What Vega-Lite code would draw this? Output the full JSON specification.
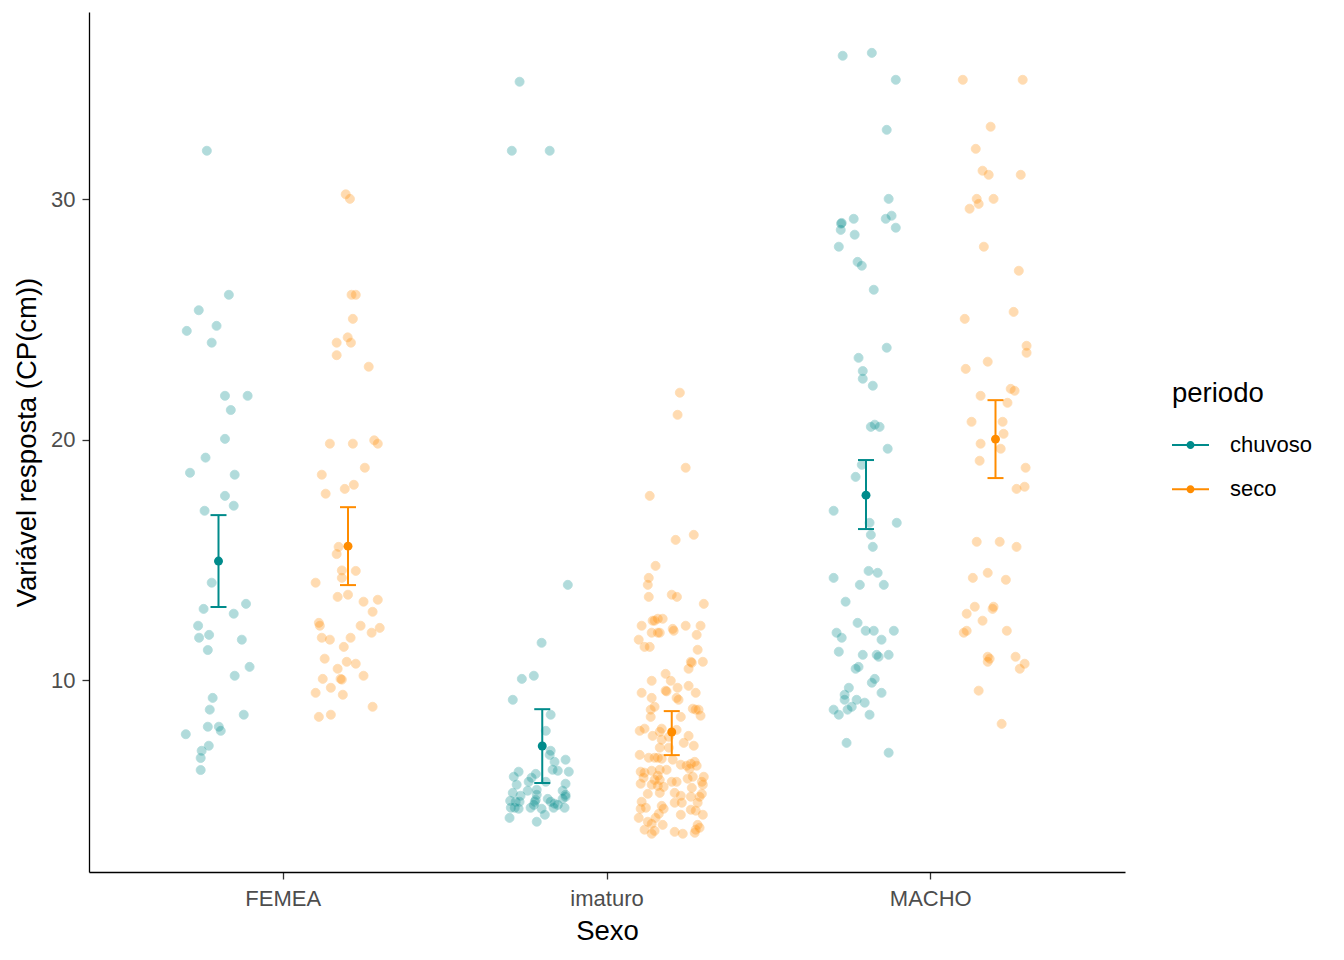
{
  "$schema": "https://vega.github.io/schema/vega-lite/v6.json",
  "width": 1036,
  "height": 860,
  "autosize": "none",
  "padding": {"left": 89, "top": 12, "right": 219, "bottom": 88},
  "background": "white",
  "config": {
    "font": "Liberation Sans",
    "view": {"stroke": null},
    "axis": {
      "grid": false,
      "domainColor": "black",
      "domainWidth": 1.3,
      "tickColor": "#333333",
      "tickWidth": 1.3,
      "tickSize": 7,
      "labelFontSize": 22,
      "labelColor": "#4D4D4D",
      "labelPadding": 6,
      "titleFontSize": 27.5,
      "titleFontWeight": "normal",
      "titleColor": "black"
    }
  },
  "datasets": {
    "pontos": [
      {"Sexo":"FEMEA","periodo":"chuvoso","cp":32.01,"dx":-0.236},
      {"Sexo":"FEMEA","periodo":"chuvoso","cp":26.02,"dx":-0.168},
      {"Sexo":"FEMEA","periodo":"chuvoso","cp":25.38,"dx":-0.261},
      {"Sexo":"FEMEA","periodo":"chuvoso","cp":24.73,"dx":-0.206},
      {"Sexo":"FEMEA","periodo":"chuvoso","cp":24.52,"dx":-0.298},
      {"Sexo":"FEMEA","periodo":"chuvoso","cp":24.03,"dx":-0.221},
      {"Sexo":"FEMEA","periodo":"chuvoso","cp":21.82,"dx":-0.180},
      {"Sexo":"FEMEA","periodo":"chuvoso","cp":21.82,"dx":-0.110},
      {"Sexo":"FEMEA","periodo":"chuvoso","cp":21.23,"dx":-0.162},
      {"Sexo":"FEMEA","periodo":"chuvoso","cp":20.03,"dx":-0.180},
      {"Sexo":"FEMEA","periodo":"chuvoso","cp":19.25,"dx":-0.240},
      {"Sexo":"FEMEA","periodo":"chuvoso","cp":18.62,"dx":-0.288},
      {"Sexo":"FEMEA","periodo":"chuvoso","cp":18.54,"dx":-0.150},
      {"Sexo":"FEMEA","periodo":"chuvoso","cp":17.66,"dx":-0.180},
      {"Sexo":"FEMEA","periodo":"chuvoso","cp":17.25,"dx":-0.153},
      {"Sexo":"FEMEA","periodo":"chuvoso","cp":17.04,"dx":-0.243},
      {"Sexo":"FEMEA","periodo":"chuvoso","cp":14.05,"dx":-0.221},
      {"Sexo":"FEMEA","periodo":"chuvoso","cp":12.96,"dx":-0.246},
      {"Sexo":"FEMEA","periodo":"chuvoso","cp":13.17,"dx":-0.115},
      {"Sexo":"FEMEA","periodo":"chuvoso","cp":12.76,"dx":-0.153},
      {"Sexo":"FEMEA","periodo":"chuvoso","cp":12.26,"dx":-0.263},
      {"Sexo":"FEMEA","periodo":"chuvoso","cp":11.76,"dx":-0.260},
      {"Sexo":"FEMEA","periodo":"chuvoso","cp":11.88,"dx":-0.229},
      {"Sexo":"FEMEA","periodo":"chuvoso","cp":11.68,"dx":-0.128},
      {"Sexo":"FEMEA","periodo":"chuvoso","cp":11.25,"dx":-0.233},
      {"Sexo":"FEMEA","periodo":"chuvoso","cp":10.55,"dx":-0.104},
      {"Sexo":"FEMEA","periodo":"chuvoso","cp":10.18,"dx":-0.150},
      {"Sexo":"FEMEA","periodo":"chuvoso","cp":9.26,"dx":-0.218},
      {"Sexo":"FEMEA","periodo":"chuvoso","cp":8.77,"dx":-0.227},
      {"Sexo":"FEMEA","periodo":"chuvoso","cp":8.56,"dx":-0.122},
      {"Sexo":"FEMEA","periodo":"chuvoso","cp":8.06,"dx":-0.233},
      {"Sexo":"FEMEA","periodo":"chuvoso","cp":8.06,"dx":-0.199},
      {"Sexo":"FEMEA","periodo":"chuvoso","cp":7.89,"dx":-0.193},
      {"Sexo":"FEMEA","periodo":"chuvoso","cp":7.75,"dx":-0.301},
      {"Sexo":"FEMEA","periodo":"chuvoso","cp":7.27,"dx":-0.230},
      {"Sexo":"FEMEA","periodo":"chuvoso","cp":7.06,"dx":-0.252},
      {"Sexo":"FEMEA","periodo":"chuvoso","cp":6.76,"dx":-0.255},
      {"Sexo":"FEMEA","periodo":"chuvoso","cp":6.26,"dx":-0.255},
      {"Sexo":"FEMEA","periodo":"seco","cp":30.20,"dx":0.193},
      {"Sexo":"FEMEA","periodo":"seco","cp":30.01,"dx":0.206},
      {"Sexo":"FEMEA","periodo":"seco","cp":26.02,"dx":0.211},
      {"Sexo":"FEMEA","periodo":"seco","cp":26.02,"dx":0.224},
      {"Sexo":"FEMEA","periodo":"seco","cp":25.02,"dx":0.215},
      {"Sexo":"FEMEA","periodo":"seco","cp":24.25,"dx":0.199},
      {"Sexo":"FEMEA","periodo":"seco","cp":24.03,"dx":0.165},
      {"Sexo":"FEMEA","periodo":"seco","cp":24.03,"dx":0.209},
      {"Sexo":"FEMEA","periodo":"seco","cp":23.51,"dx":0.165},
      {"Sexo":"FEMEA","periodo":"seco","cp":23.03,"dx":0.264},
      {"Sexo":"FEMEA","periodo":"seco","cp":19.83,"dx":0.144},
      {"Sexo":"FEMEA","periodo":"seco","cp":19.83,"dx":0.215},
      {"Sexo":"FEMEA","periodo":"seco","cp":19.97,"dx":0.281},
      {"Sexo":"FEMEA","periodo":"seco","cp":19.83,"dx":0.292},
      {"Sexo":"FEMEA","periodo":"seco","cp":18.83,"dx":0.252},
      {"Sexo":"FEMEA","periodo":"seco","cp":18.54,"dx":0.119},
      {"Sexo":"FEMEA","periodo":"seco","cp":18.12,"dx":0.218},
      {"Sexo":"FEMEA","periodo":"seco","cp":17.95,"dx":0.190},
      {"Sexo":"FEMEA","periodo":"seco","cp":17.75,"dx":0.131},
      {"Sexo":"FEMEA","periodo":"seco","cp":15.54,"dx":0.171},
      {"Sexo":"FEMEA","periodo":"seco","cp":15.24,"dx":0.165},
      {"Sexo":"FEMEA","periodo":"seco","cp":14.56,"dx":0.181},
      {"Sexo":"FEMEA","periodo":"seco","cp":14.54,"dx":0.224},
      {"Sexo":"FEMEA","periodo":"seco","cp":14.25,"dx":0.181},
      {"Sexo":"FEMEA","periodo":"seco","cp":14.05,"dx":0.100},
      {"Sexo":"FEMEA","periodo":"seco","cp":13.46,"dx":0.168},
      {"Sexo":"FEMEA","periodo":"seco","cp":13.55,"dx":0.200},
      {"Sexo":"FEMEA","periodo":"seco","cp":13.26,"dx":0.248},
      {"Sexo":"FEMEA","periodo":"seco","cp":13.34,"dx":0.292},
      {"Sexo":"FEMEA","periodo":"seco","cp":12.84,"dx":0.276},
      {"Sexo":"FEMEA","periodo":"seco","cp":12.38,"dx":0.110},
      {"Sexo":"FEMEA","periodo":"seco","cp":12.26,"dx":0.113},
      {"Sexo":"FEMEA","periodo":"seco","cp":12.26,"dx":0.239},
      {"Sexo":"FEMEA","periodo":"seco","cp":12.17,"dx":0.298},
      {"Sexo":"FEMEA","periodo":"seco","cp":11.97,"dx":0.273},
      {"Sexo":"FEMEA","periodo":"seco","cp":11.76,"dx":0.119},
      {"Sexo":"FEMEA","periodo":"seco","cp":11.68,"dx":0.144},
      {"Sexo":"FEMEA","periodo":"seco","cp":11.76,"dx":0.208},
      {"Sexo":"FEMEA","periodo":"seco","cp":11.38,"dx":0.187},
      {"Sexo":"FEMEA","periodo":"seco","cp":10.89,"dx":0.128},
      {"Sexo":"FEMEA","periodo":"seco","cp":10.76,"dx":0.196},
      {"Sexo":"FEMEA","periodo":"seco","cp":10.68,"dx":0.224},
      {"Sexo":"FEMEA","periodo":"seco","cp":10.47,"dx":0.168},
      {"Sexo":"FEMEA","periodo":"seco","cp":10.05,"dx":0.122},
      {"Sexo":"FEMEA","periodo":"seco","cp":10.05,"dx":0.177},
      {"Sexo":"FEMEA","periodo":"seco","cp":10.02,"dx":0.181},
      {"Sexo":"FEMEA","periodo":"seco","cp":10.18,"dx":0.248},
      {"Sexo":"FEMEA","periodo":"seco","cp":9.68,"dx":0.147},
      {"Sexo":"FEMEA","periodo":"seco","cp":9.47,"dx":0.100},
      {"Sexo":"FEMEA","periodo":"seco","cp":9.39,"dx":0.184},
      {"Sexo":"FEMEA","periodo":"seco","cp":8.89,"dx":0.276},
      {"Sexo":"FEMEA","periodo":"seco","cp":8.47,"dx":0.110},
      {"Sexo":"FEMEA","periodo":"seco","cp":8.56,"dx":0.147},
      {"Sexo":"imaturo","periodo":"chuvoso","cp":34.88,"dx":-0.270},
      {"Sexo":"imaturo","periodo":"chuvoso","cp":32.01,"dx":-0.294},
      {"Sexo":"imaturo","periodo":"chuvoso","cp":32.01,"dx":-0.177},
      {"Sexo":"imaturo","periodo":"chuvoso","cp":13.96,"dx":-0.121},
      {"Sexo":"imaturo","periodo":"chuvoso","cp":11.55,"dx":-0.202},
      {"Sexo":"imaturo","periodo":"chuvoso","cp":10.05,"dx":-0.263},
      {"Sexo":"imaturo","periodo":"chuvoso","cp":10.18,"dx":-0.226},
      {"Sexo":"imaturo","periodo":"chuvoso","cp":9.18,"dx":-0.291},
      {"Sexo":"imaturo","periodo":"chuvoso","cp":8.56,"dx":-0.174},
      {"Sexo":"imaturo","periodo":"chuvoso","cp":7.89,"dx":-0.189},
      {"Sexo":"imaturo","periodo":"chuvoso","cp":7.06,"dx":-0.174},
      {"Sexo":"imaturo","periodo":"chuvoso","cp":6.89,"dx":-0.177},
      {"Sexo":"imaturo","periodo":"chuvoso","cp":6.60,"dx":-0.162},
      {"Sexo":"imaturo","periodo":"chuvoso","cp":6.69,"dx":-0.128},
      {"Sexo":"imaturo","periodo":"chuvoso","cp":6.27,"dx":-0.168},
      {"Sexo":"imaturo","periodo":"chuvoso","cp":6.23,"dx":-0.152},
      {"Sexo":"imaturo","periodo":"chuvoso","cp":6.19,"dx":-0.118},
      {"Sexo":"imaturo","periodo":"chuvoso","cp":6.19,"dx":-0.273},
      {"Sexo":"imaturo","periodo":"chuvoso","cp":5.98,"dx":-0.288},
      {"Sexo":"imaturo","periodo":"chuvoso","cp":6.10,"dx":-0.220},
      {"Sexo":"imaturo","periodo":"chuvoso","cp":5.94,"dx":-0.233},
      {"Sexo":"imaturo","periodo":"chuvoso","cp":5.77,"dx":-0.189},
      {"Sexo":"imaturo","periodo":"chuvoso","cp":5.77,"dx":-0.242},
      {"Sexo":"imaturo","periodo":"chuvoso","cp":5.65,"dx":-0.279},
      {"Sexo":"imaturo","periodo":"chuvoso","cp":5.69,"dx":-0.128},
      {"Sexo":"imaturo","periodo":"chuvoso","cp":5.40,"dx":-0.245},
      {"Sexo":"imaturo","periodo":"chuvoso","cp":5.44,"dx":-0.217},
      {"Sexo":"imaturo","periodo":"chuvoso","cp":5.40,"dx":-0.137},
      {"Sexo":"imaturo","periodo":"chuvoso","cp":5.23,"dx":-0.128},
      {"Sexo":"imaturo","periodo":"chuvoso","cp":5.31,"dx":-0.291},
      {"Sexo":"imaturo","periodo":"chuvoso","cp":5.19,"dx":-0.267},
      {"Sexo":"imaturo","periodo":"chuvoso","cp":5.23,"dx":-0.217},
      {"Sexo":"imaturo","periodo":"chuvoso","cp":4.98,"dx":-0.299},
      {"Sexo":"imaturo","periodo":"chuvoso","cp":4.94,"dx":-0.282},
      {"Sexo":"imaturo","periodo":"chuvoso","cp":4.94,"dx":-0.270},
      {"Sexo":"imaturo","periodo":"chuvoso","cp":4.94,"dx":-0.223},
      {"Sexo":"imaturo","periodo":"chuvoso","cp":5.02,"dx":-0.220},
      {"Sexo":"imaturo","periodo":"chuvoso","cp":5.06,"dx":-0.183},
      {"Sexo":"imaturo","periodo":"chuvoso","cp":4.94,"dx":-0.174},
      {"Sexo":"imaturo","periodo":"chuvoso","cp":5.06,"dx":-0.137},
      {"Sexo":"imaturo","periodo":"chuvoso","cp":5.15,"dx":-0.128},
      {"Sexo":"imaturo","periodo":"chuvoso","cp":4.86,"dx":-0.162},
      {"Sexo":"imaturo","periodo":"chuvoso","cp":4.81,"dx":-0.152},
      {"Sexo":"imaturo","periodo":"chuvoso","cp":4.69,"dx":-0.297},
      {"Sexo":"imaturo","periodo":"chuvoso","cp":4.69,"dx":-0.285},
      {"Sexo":"imaturo","periodo":"chuvoso","cp":4.65,"dx":-0.273},
      {"Sexo":"imaturo","periodo":"chuvoso","cp":4.69,"dx":-0.236},
      {"Sexo":"imaturo","periodo":"chuvoso","cp":4.81,"dx":-0.226},
      {"Sexo":"imaturo","periodo":"chuvoso","cp":4.65,"dx":-0.202},
      {"Sexo":"imaturo","periodo":"chuvoso","cp":4.69,"dx":-0.165},
      {"Sexo":"imaturo","periodo":"chuvoso","cp":4.69,"dx":-0.131},
      {"Sexo":"imaturo","periodo":"chuvoso","cp":4.40,"dx":-0.192},
      {"Sexo":"imaturo","periodo":"chuvoso","cp":4.27,"dx":-0.301},
      {"Sexo":"imaturo","periodo":"chuvoso","cp":4.11,"dx":-0.217},
      {"Sexo":"imaturo","periodo":"seco","cp":21.95,"dx":0.225},
      {"Sexo":"imaturo","periodo":"seco","cp":21.03,"dx":0.218},
      {"Sexo":"imaturo","periodo":"seco","cp":18.83,"dx":0.243},
      {"Sexo":"imaturo","periodo":"seco","cp":17.66,"dx":0.132},
      {"Sexo":"imaturo","periodo":"seco","cp":15.83,"dx":0.212},
      {"Sexo":"imaturo","periodo":"seco","cp":16.04,"dx":0.268},
      {"Sexo":"imaturo","periodo":"seco","cp":14.75,"dx":0.150},
      {"Sexo":"imaturo","periodo":"seco","cp":14.25,"dx":0.129},
      {"Sexo":"imaturo","periodo":"seco","cp":13.96,"dx":0.126},
      {"Sexo":"imaturo","periodo":"seco","cp":13.46,"dx":0.129},
      {"Sexo":"imaturo","periodo":"seco","cp":13.55,"dx":0.200},
      {"Sexo":"imaturo","periodo":"seco","cp":13.46,"dx":0.216},
      {"Sexo":"imaturo","periodo":"seco","cp":13.17,"dx":0.299},
      {"Sexo":"imaturo","periodo":"seco","cp":12.26,"dx":0.107},
      {"Sexo":"imaturo","periodo":"seco","cp":12.47,"dx":0.141},
      {"Sexo":"imaturo","periodo":"seco","cp":12.55,"dx":0.157},
      {"Sexo":"imaturo","periodo":"seco","cp":12.55,"dx":0.172},
      {"Sexo":"imaturo","periodo":"seco","cp":12.47,"dx":0.147},
      {"Sexo":"imaturo","periodo":"seco","cp":12.13,"dx":0.203},
      {"Sexo":"imaturo","periodo":"seco","cp":12.05,"dx":0.206},
      {"Sexo":"imaturo","periodo":"seco","cp":12.26,"dx":0.243},
      {"Sexo":"imaturo","periodo":"seco","cp":12.26,"dx":0.289},
      {"Sexo":"imaturo","periodo":"seco","cp":11.88,"dx":0.277},
      {"Sexo":"imaturo","periodo":"seco","cp":11.97,"dx":0.138},
      {"Sexo":"imaturo","periodo":"seco","cp":11.97,"dx":0.157},
      {"Sexo":"imaturo","periodo":"seco","cp":11.97,"dx":0.163},
      {"Sexo":"imaturo","periodo":"seco","cp":11.68,"dx":0.098},
      {"Sexo":"imaturo","periodo":"seco","cp":11.38,"dx":0.116},
      {"Sexo":"imaturo","periodo":"seco","cp":11.38,"dx":0.132},
      {"Sexo":"imaturo","periodo":"seco","cp":11.26,"dx":0.280},
      {"Sexo":"imaturo","periodo":"seco","cp":10.76,"dx":0.259},
      {"Sexo":"imaturo","periodo":"seco","cp":10.72,"dx":0.262},
      {"Sexo":"imaturo","periodo":"seco","cp":10.76,"dx":0.296},
      {"Sexo":"imaturo","periodo":"seco","cp":10.47,"dx":0.252},
      {"Sexo":"imaturo","periodo":"seco","cp":10.26,"dx":0.181},
      {"Sexo":"imaturo","periodo":"seco","cp":9.97,"dx":0.138},
      {"Sexo":"imaturo","periodo":"seco","cp":9.97,"dx":0.197},
      {"Sexo":"imaturo","periodo":"seco","cp":9.68,"dx":0.218},
      {"Sexo":"imaturo","periodo":"seco","cp":9.76,"dx":0.252},
      {"Sexo":"imaturo","periodo":"seco","cp":9.56,"dx":0.181},
      {"Sexo":"imaturo","periodo":"seco","cp":9.53,"dx":0.184},
      {"Sexo":"imaturo","periodo":"seco","cp":9.47,"dx":0.274},
      {"Sexo":"imaturo","periodo":"seco","cp":9.47,"dx":0.107},
      {"Sexo":"imaturo","periodo":"seco","cp":9.26,"dx":0.138},
      {"Sexo":"imaturo","periodo":"seco","cp":9.26,"dx":0.215},
      {"Sexo":"imaturo","periodo":"seco","cp":9.18,"dx":0.221},
      {"Sexo":"imaturo","periodo":"seco","cp":8.89,"dx":0.147},
      {"Sexo":"imaturo","periodo":"seco","cp":8.77,"dx":0.135},
      {"Sexo":"imaturo","periodo":"seco","cp":8.81,"dx":0.265},
      {"Sexo":"imaturo","periodo":"seco","cp":8.77,"dx":0.274},
      {"Sexo":"imaturo","periodo":"seco","cp":8.77,"dx":0.283},
      {"Sexo":"imaturo","periodo":"seco","cp":8.47,"dx":0.135},
      {"Sexo":"imaturo","periodo":"seco","cp":8.47,"dx":0.228},
      {"Sexo":"imaturo","periodo":"seco","cp":8.52,"dx":0.289},
      {"Sexo":"imaturo","periodo":"seco","cp":7.89,"dx":0.101},
      {"Sexo":"imaturo","periodo":"seco","cp":7.98,"dx":0.116},
      {"Sexo":"imaturo","periodo":"seco","cp":7.98,"dx":0.169},
      {"Sexo":"imaturo","periodo":"seco","cp":7.85,"dx":0.163},
      {"Sexo":"imaturo","periodo":"seco","cp":7.93,"dx":0.215},
      {"Sexo":"imaturo","periodo":"seco","cp":7.68,"dx":0.141},
      {"Sexo":"imaturo","periodo":"seco","cp":7.52,"dx":0.169},
      {"Sexo":"imaturo","periodo":"seco","cp":7.64,"dx":0.191},
      {"Sexo":"imaturo","periodo":"seco","cp":7.68,"dx":0.252},
      {"Sexo":"imaturo","periodo":"seco","cp":7.39,"dx":0.237},
      {"Sexo":"imaturo","periodo":"seco","cp":7.27,"dx":0.268},
      {"Sexo":"imaturo","periodo":"seco","cp":7.19,"dx":0.163},
      {"Sexo":"imaturo","periodo":"seco","cp":7.19,"dx":0.191},
      {"Sexo":"imaturo","periodo":"seco","cp":6.89,"dx":0.101},
      {"Sexo":"imaturo","periodo":"seco","cp":6.77,"dx":0.129},
      {"Sexo":"imaturo","periodo":"seco","cp":6.77,"dx":0.147},
      {"Sexo":"imaturo","periodo":"seco","cp":6.77,"dx":0.157},
      {"Sexo":"imaturo","periodo":"seco","cp":6.73,"dx":0.169},
      {"Sexo":"imaturo","periodo":"seco","cp":6.69,"dx":0.203},
      {"Sexo":"imaturo","periodo":"seco","cp":6.48,"dx":0.228},
      {"Sexo":"imaturo","periodo":"seco","cp":6.44,"dx":0.246},
      {"Sexo":"imaturo","periodo":"seco","cp":6.52,"dx":0.259},
      {"Sexo":"imaturo","periodo":"seco","cp":6.60,"dx":0.271},
      {"Sexo":"imaturo","periodo":"seco","cp":6.44,"dx":0.277},
      {"Sexo":"imaturo","periodo":"seco","cp":6.27,"dx":0.163},
      {"Sexo":"imaturo","periodo":"seco","cp":6.27,"dx":0.184},
      {"Sexo":"imaturo","periodo":"seco","cp":6.19,"dx":0.104},
      {"Sexo":"imaturo","periodo":"seco","cp":6.15,"dx":0.116},
      {"Sexo":"imaturo","periodo":"seco","cp":6.23,"dx":0.138},
      {"Sexo":"imaturo","periodo":"seco","cp":6.02,"dx":0.157},
      {"Sexo":"imaturo","periodo":"seco","cp":6.31,"dx":0.255},
      {"Sexo":"imaturo","periodo":"seco","cp":5.98,"dx":0.265},
      {"Sexo":"imaturo","periodo":"seco","cp":5.98,"dx":0.299},
      {"Sexo":"imaturo","periodo":"seco","cp":5.94,"dx":0.113},
      {"Sexo":"imaturo","periodo":"seco","cp":5.85,"dx":0.147},
      {"Sexo":"imaturo","periodo":"seco","cp":5.85,"dx":0.163},
      {"Sexo":"imaturo","periodo":"seco","cp":5.77,"dx":0.200},
      {"Sexo":"imaturo","periodo":"seco","cp":5.77,"dx":0.215},
      {"Sexo":"imaturo","periodo":"seco","cp":5.90,"dx":0.249},
      {"Sexo":"imaturo","periodo":"seco","cp":5.77,"dx":0.293},
      {"Sexo":"imaturo","periodo":"seco","cp":5.69,"dx":0.104},
      {"Sexo":"imaturo","periodo":"seco","cp":5.65,"dx":0.138},
      {"Sexo":"imaturo","periodo":"seco","cp":5.60,"dx":0.157},
      {"Sexo":"imaturo","periodo":"seco","cp":5.56,"dx":0.175},
      {"Sexo":"imaturo","periodo":"seco","cp":5.52,"dx":0.262},
      {"Sexo":"imaturo","periodo":"seco","cp":5.65,"dx":0.296},
      {"Sexo":"imaturo","periodo":"seco","cp":5.27,"dx":0.126},
      {"Sexo":"imaturo","periodo":"seco","cp":5.31,"dx":0.163},
      {"Sexo":"imaturo","periodo":"seco","cp":5.31,"dx":0.209},
      {"Sexo":"imaturo","periodo":"seco","cp":5.19,"dx":0.228},
      {"Sexo":"imaturo","periodo":"seco","cp":5.15,"dx":0.259},
      {"Sexo":"imaturo","periodo":"seco","cp":5.15,"dx":0.286},
      {"Sexo":"imaturo","periodo":"seco","cp":5.27,"dx":0.293},
      {"Sexo":"imaturo","periodo":"seco","cp":4.94,"dx":0.107},
      {"Sexo":"imaturo","periodo":"seco","cp":4.90,"dx":0.209},
      {"Sexo":"imaturo","periodo":"seco","cp":4.90,"dx":0.231},
      {"Sexo":"imaturo","periodo":"seco","cp":4.90,"dx":0.280},
      {"Sexo":"imaturo","periodo":"seco","cp":4.77,"dx":0.169},
      {"Sexo":"imaturo","periodo":"seco","cp":4.65,"dx":0.104},
      {"Sexo":"imaturo","periodo":"seco","cp":4.69,"dx":0.120},
      {"Sexo":"imaturo","periodo":"seco","cp":4.65,"dx":0.175},
      {"Sexo":"imaturo","periodo":"seco","cp":4.61,"dx":0.259},
      {"Sexo":"imaturo","periodo":"seco","cp":4.57,"dx":0.274},
      {"Sexo":"imaturo","periodo":"seco","cp":4.44,"dx":0.160},
      {"Sexo":"imaturo","periodo":"seco","cp":4.27,"dx":0.098},
      {"Sexo":"imaturo","periodo":"seco","cp":4.40,"dx":0.228},
      {"Sexo":"imaturo","periodo":"seco","cp":4.40,"dx":0.296},
      {"Sexo":"imaturo","periodo":"seco","cp":4.27,"dx":0.150},
      {"Sexo":"imaturo","periodo":"seco","cp":4.11,"dx":0.126},
      {"Sexo":"imaturo","periodo":"seco","cp":4.02,"dx":0.138},
      {"Sexo":"imaturo","periodo":"seco","cp":3.98,"dx":0.172},
      {"Sexo":"imaturo","periodo":"seco","cp":3.98,"dx":0.280},
      {"Sexo":"imaturo","periodo":"seco","cp":3.86,"dx":0.286},
      {"Sexo":"imaturo","periodo":"seco","cp":3.78,"dx":0.116},
      {"Sexo":"imaturo","periodo":"seco","cp":3.73,"dx":0.147},
      {"Sexo":"imaturo","periodo":"seco","cp":3.69,"dx":0.209},
      {"Sexo":"imaturo","periodo":"seco","cp":3.61,"dx":0.234},
      {"Sexo":"imaturo","periodo":"seco","cp":3.61,"dx":0.138},
      {"Sexo":"imaturo","periodo":"seco","cp":3.65,"dx":0.271},
      {"Sexo":"imaturo","periodo":"seco","cp":3.78,"dx":0.274},
      {"Sexo":"MACHO","periodo":"chuvoso","cp":35.96,"dx":-0.272},
      {"Sexo":"MACHO","periodo":"chuvoso","cp":36.08,"dx":-0.182},
      {"Sexo":"MACHO","periodo":"chuvoso","cp":34.96,"dx":-0.108},
      {"Sexo":"MACHO","periodo":"chuvoso","cp":32.88,"dx":-0.136},
      {"Sexo":"MACHO","periodo":"chuvoso","cp":30.01,"dx":-0.130},
      {"Sexo":"MACHO","periodo":"chuvoso","cp":29.18,"dx":-0.238},
      {"Sexo":"MACHO","periodo":"chuvoso","cp":29.18,"dx":-0.139},
      {"Sexo":"MACHO","periodo":"chuvoso","cp":29.31,"dx":-0.121},
      {"Sexo":"MACHO","periodo":"chuvoso","cp":29.01,"dx":-0.275},
      {"Sexo":"MACHO","periodo":"chuvoso","cp":28.98,"dx":-0.277},
      {"Sexo":"MACHO","periodo":"chuvoso","cp":28.72,"dx":-0.278},
      {"Sexo":"MACHO","periodo":"chuvoso","cp":28.52,"dx":-0.235},
      {"Sexo":"MACHO","periodo":"chuvoso","cp":28.81,"dx":-0.108},
      {"Sexo":"MACHO","periodo":"chuvoso","cp":28.02,"dx":-0.284},
      {"Sexo":"MACHO","periodo":"chuvoso","cp":27.39,"dx":-0.226},
      {"Sexo":"MACHO","periodo":"chuvoso","cp":27.23,"dx":-0.213},
      {"Sexo":"MACHO","periodo":"chuvoso","cp":26.23,"dx":-0.176},
      {"Sexo":"MACHO","periodo":"chuvoso","cp":23.82,"dx":-0.136},
      {"Sexo":"MACHO","periodo":"chuvoso","cp":23.40,"dx":-0.223},
      {"Sexo":"MACHO","periodo":"chuvoso","cp":22.85,"dx":-0.210},
      {"Sexo":"MACHO","periodo":"chuvoso","cp":22.53,"dx":-0.210},
      {"Sexo":"MACHO","periodo":"chuvoso","cp":22.24,"dx":-0.179},
      {"Sexo":"MACHO","periodo":"chuvoso","cp":20.53,"dx":-0.185},
      {"Sexo":"MACHO","periodo":"chuvoso","cp":20.62,"dx":-0.173},
      {"Sexo":"MACHO","periodo":"chuvoso","cp":20.53,"dx":-0.158},
      {"Sexo":"MACHO","periodo":"chuvoso","cp":19.62,"dx":-0.133},
      {"Sexo":"MACHO","periodo":"chuvoso","cp":18.95,"dx":-0.213},
      {"Sexo":"MACHO","periodo":"chuvoso","cp":18.45,"dx":-0.232},
      {"Sexo":"MACHO","periodo":"chuvoso","cp":17.04,"dx":-0.300},
      {"Sexo":"MACHO","periodo":"chuvoso","cp":16.54,"dx":-0.189},
      {"Sexo":"MACHO","periodo":"chuvoso","cp":16.54,"dx":-0.105},
      {"Sexo":"MACHO","periodo":"chuvoso","cp":16.04,"dx":-0.185},
      {"Sexo":"MACHO","periodo":"chuvoso","cp":15.54,"dx":-0.179},
      {"Sexo":"MACHO","periodo":"chuvoso","cp":14.54,"dx":-0.192},
      {"Sexo":"MACHO","periodo":"chuvoso","cp":14.46,"dx":-0.164},
      {"Sexo":"MACHO","periodo":"chuvoso","cp":14.25,"dx":-0.300},
      {"Sexo":"MACHO","periodo":"chuvoso","cp":13.96,"dx":-0.219},
      {"Sexo":"MACHO","periodo":"chuvoso","cp":13.96,"dx":-0.145},
      {"Sexo":"MACHO","periodo":"chuvoso","cp":13.26,"dx":-0.263},
      {"Sexo":"MACHO","periodo":"chuvoso","cp":12.38,"dx":-0.226},
      {"Sexo":"MACHO","periodo":"chuvoso","cp":12.05,"dx":-0.201},
      {"Sexo":"MACHO","periodo":"chuvoso","cp":12.05,"dx":-0.176},
      {"Sexo":"MACHO","periodo":"chuvoso","cp":12.05,"dx":-0.114},
      {"Sexo":"MACHO","periodo":"chuvoso","cp":11.97,"dx":-0.291},
      {"Sexo":"MACHO","periodo":"chuvoso","cp":11.76,"dx":-0.275},
      {"Sexo":"MACHO","periodo":"chuvoso","cp":11.68,"dx":-0.152},
      {"Sexo":"MACHO","periodo":"chuvoso","cp":11.18,"dx":-0.284},
      {"Sexo":"MACHO","periodo":"chuvoso","cp":11.05,"dx":-0.210},
      {"Sexo":"MACHO","periodo":"chuvoso","cp":11.05,"dx":-0.167},
      {"Sexo":"MACHO","periodo":"chuvoso","cp":10.97,"dx":-0.161},
      {"Sexo":"MACHO","periodo":"chuvoso","cp":11.05,"dx":-0.130},
      {"Sexo":"MACHO","periodo":"chuvoso","cp":10.55,"dx":-0.223},
      {"Sexo":"MACHO","periodo":"chuvoso","cp":10.47,"dx":-0.232},
      {"Sexo":"MACHO","periodo":"chuvoso","cp":10.05,"dx":-0.173},
      {"Sexo":"MACHO","periodo":"chuvoso","cp":9.89,"dx":-0.182},
      {"Sexo":"MACHO","periodo":"chuvoso","cp":9.68,"dx":-0.253},
      {"Sexo":"MACHO","periodo":"chuvoso","cp":9.47,"dx":-0.152},
      {"Sexo":"MACHO","periodo":"chuvoso","cp":9.39,"dx":-0.266},
      {"Sexo":"MACHO","periodo":"chuvoso","cp":9.18,"dx":-0.266},
      {"Sexo":"MACHO","periodo":"chuvoso","cp":9.18,"dx":-0.229},
      {"Sexo":"MACHO","periodo":"chuvoso","cp":9.06,"dx":-0.204},
      {"Sexo":"MACHO","periodo":"chuvoso","cp":8.89,"dx":-0.244},
      {"Sexo":"MACHO","periodo":"chuvoso","cp":8.77,"dx":-0.257},
      {"Sexo":"MACHO","periodo":"chuvoso","cp":8.77,"dx":-0.300},
      {"Sexo":"MACHO","periodo":"chuvoso","cp":8.56,"dx":-0.284},
      {"Sexo":"MACHO","periodo":"chuvoso","cp":8.56,"dx":-0.189},
      {"Sexo":"MACHO","periodo":"chuvoso","cp":7.39,"dx":-0.260},
      {"Sexo":"MACHO","periodo":"chuvoso","cp":6.98,"dx":-0.130},
      {"Sexo":"MACHO","periodo":"seco","cp":34.96,"dx":0.099},
      {"Sexo":"MACHO","periodo":"seco","cp":34.96,"dx":0.284},
      {"Sexo":"MACHO","periodo":"seco","cp":33.01,"dx":0.185},
      {"Sexo":"MACHO","periodo":"seco","cp":32.09,"dx":0.139},
      {"Sexo":"MACHO","periodo":"seco","cp":31.18,"dx":0.160},
      {"Sexo":"MACHO","periodo":"seco","cp":31.01,"dx":0.179},
      {"Sexo":"MACHO","periodo":"seco","cp":31.01,"dx":0.278},
      {"Sexo":"MACHO","periodo":"seco","cp":30.01,"dx":0.142},
      {"Sexo":"MACHO","periodo":"seco","cp":30.01,"dx":0.194},
      {"Sexo":"MACHO","periodo":"seco","cp":29.80,"dx":0.148},
      {"Sexo":"MACHO","periodo":"seco","cp":29.60,"dx":0.120},
      {"Sexo":"MACHO","periodo":"seco","cp":28.02,"dx":0.164},
      {"Sexo":"MACHO","periodo":"seco","cp":27.02,"dx":0.272},
      {"Sexo":"MACHO","periodo":"seco","cp":25.31,"dx":0.256},
      {"Sexo":"MACHO","periodo":"seco","cp":25.02,"dx":0.105},
      {"Sexo":"MACHO","periodo":"seco","cp":23.90,"dx":0.296},
      {"Sexo":"MACHO","periodo":"seco","cp":23.61,"dx":0.296},
      {"Sexo":"MACHO","periodo":"seco","cp":23.24,"dx":0.176},
      {"Sexo":"MACHO","periodo":"seco","cp":22.94,"dx":0.108},
      {"Sexo":"MACHO","periodo":"seco","cp":21.82,"dx":0.154},
      {"Sexo":"MACHO","periodo":"seco","cp":22.11,"dx":0.247},
      {"Sexo":"MACHO","periodo":"seco","cp":22.03,"dx":0.259},
      {"Sexo":"MACHO","periodo":"seco","cp":21.53,"dx":0.237},
      {"Sexo":"MACHO","periodo":"seco","cp":20.74,"dx":0.126},
      {"Sexo":"MACHO","periodo":"seco","cp":20.74,"dx":0.222},
      {"Sexo":"MACHO","periodo":"seco","cp":20.24,"dx":0.225},
      {"Sexo":"MACHO","periodo":"seco","cp":19.83,"dx":0.154},
      {"Sexo":"MACHO","periodo":"seco","cp":19.62,"dx":0.216},
      {"Sexo":"MACHO","periodo":"seco","cp":19.12,"dx":0.151},
      {"Sexo":"MACHO","periodo":"seco","cp":18.83,"dx":0.293},
      {"Sexo":"MACHO","periodo":"seco","cp":17.95,"dx":0.265},
      {"Sexo":"MACHO","periodo":"seco","cp":18.04,"dx":0.290},
      {"Sexo":"MACHO","periodo":"seco","cp":15.75,"dx":0.142},
      {"Sexo":"MACHO","periodo":"seco","cp":15.75,"dx":0.213},
      {"Sexo":"MACHO","periodo":"seco","cp":15.54,"dx":0.265},
      {"Sexo":"MACHO","periodo":"seco","cp":14.46,"dx":0.176},
      {"Sexo":"MACHO","periodo":"seco","cp":14.25,"dx":0.130},
      {"Sexo":"MACHO","periodo":"seco","cp":14.17,"dx":0.232},
      {"Sexo":"MACHO","periodo":"seco","cp":13.05,"dx":0.136},
      {"Sexo":"MACHO","periodo":"seco","cp":12.96,"dx":0.191},
      {"Sexo":"MACHO","periodo":"seco","cp":13.05,"dx":0.194},
      {"Sexo":"MACHO","periodo":"seco","cp":12.76,"dx":0.111},
      {"Sexo":"MACHO","periodo":"seco","cp":12.47,"dx":0.160},
      {"Sexo":"MACHO","periodo":"seco","cp":11.97,"dx":0.102},
      {"Sexo":"MACHO","periodo":"seco","cp":12.05,"dx":0.111},
      {"Sexo":"MACHO","periodo":"seco","cp":12.05,"dx":0.235},
      {"Sexo":"MACHO","periodo":"seco","cp":10.97,"dx":0.176},
      {"Sexo":"MACHO","periodo":"seco","cp":10.89,"dx":0.182},
      {"Sexo":"MACHO","periodo":"seco","cp":10.76,"dx":0.176},
      {"Sexo":"MACHO","periodo":"seco","cp":10.97,"dx":0.262},
      {"Sexo":"MACHO","periodo":"seco","cp":10.68,"dx":0.290},
      {"Sexo":"MACHO","periodo":"seco","cp":10.47,"dx":0.275},
      {"Sexo":"MACHO","periodo":"seco","cp":9.56,"dx":0.148},
      {"Sexo":"MACHO","periodo":"seco","cp":8.18,"dx":0.219}
    ],
    "resumo": [
      {"Sexo":"FEMEA","periodo":"chuvoso","dx":-0.2,"media":14.95,"inf":13.04,"sup":16.86},
      {"Sexo":"FEMEA","periodo":"seco","dx":0.2,"media":15.57,"inf":13.95,"sup":17.19},
      {"Sexo":"imaturo","periodo":"chuvoso","dx":-0.2,"media":7.26,"inf":5.72,"sup":8.79},
      {"Sexo":"imaturo","periodo":"seco","dx":0.2,"media":7.84,"inf":6.88,"sup":8.71},
      {"Sexo":"MACHO","periodo":"chuvoso","dx":-0.2,"media":17.69,"inf":16.28,"sup":19.15},
      {"Sexo":"MACHO","periodo":"seco","dx":0.2,"media":20.02,"inf":18.40,"sup":21.64}
    ]
  },
  "encoding": {
    "x": {
      "field": "Sexo",
      "type": "nominal",
      "title": "Sexo",
      "scale": {"domain": ["FEMEA", "imaturo", "MACHO"], "paddingInner": 0, "paddingOuter": 0.1},
      "axis": {"labelAngle": 0, "labelPadding": 9, "titlePadding": 8}
    },
    "xOffset": {
      "field": "dx",
      "type": "quantitative",
      "scale": {"domain": [-0.5, 0.5], "range": [0, 323.75]}
    },
    "color": {
      "field": "periodo",
      "type": "nominal",
      "scale": {"domain": ["chuvoso", "seco"], "range": ["#008B8B", "#FF8C00"]},
      "legend": {
        "title": "periodo",
        "orient": "none",
        "legendX": 1083,
        "legendY": 368,
        "padding": 0,
        "symbolType": "M-1,-0.055L1,-0.055L1,0.055L-1,0.055Z M0.216,0A0.216,0.216,0,1,1,-0.216,0A0.216,0.216,0,1,1,0.216,0Z",
        "symbolSize": 1369,
        "symbolStrokeWidth": 0,
        "symbolOpacity": 1,
        "labelFontSize": 22,
        "labelColor": "black",
        "labelOffset": 21,
        "titleFontSize": 27.5,
        "titleFontWeight": "normal",
        "titleColor": "black",
        "titlePadding": 19,
        "rowPadding": 14.2,
        "encode": {
          "symbols": {"update": {"fillOpacity": {"value": 1}, "opacity": {"value": 1}, "strokeOpacity": {"value": 0}}}
        }
      }
    }
  },
  "layer": [
    {
      "data": {"name": "pontos"},
      "mark": {"type": "circle", "size": 82, "opacity": 0.3, "strokeWidth": 0.8},
      "encoding": {
        "y": {
          "field": "cp",
          "type": "quantitative",
          "title": "Variável resposta (CP(cm))",
          "scale": {"domain": [2.02, 37.78], "nice": false, "zero": false},
          "axis": {"values": [10, 20, 30], "labelPadding": 7, "titlePadding": 9}
        },
        "stroke": {
          "field": "periodo",
          "type": "nominal",
          "scale": {"domain": ["chuvoso", "seco"], "range": ["#008B8B", "#FF8C00"]},
          "legend": null
        }
      }
    },
    {
      "data": {"name": "resumo"},
      "mark": {"type": "rule", "strokeWidth": 2},
      "encoding": {
        "y": {"field": "inf", "type": "quantitative"},
        "y2": {"field": "sup"}
      }
    },
    {
      "data": {"name": "resumo"},
      "mark": {"type": "tick", "size": 16, "thickness": 2, "opacity": 1},
      "encoding": {
        "y": {"field": "inf", "type": "quantitative"}
      }
    },
    {
      "data": {"name": "resumo"},
      "mark": {"type": "tick", "size": 16, "thickness": 2, "opacity": 1},
      "encoding": {
        "y": {"field": "sup", "type": "quantitative"}
      }
    },
    {
      "data": {"name": "resumo"},
      "mark": {"type": "circle", "size": 80, "opacity": 1},
      "encoding": {
        "y": {"field": "media", "type": "quantitative"}
      }
    }
  ]
}
